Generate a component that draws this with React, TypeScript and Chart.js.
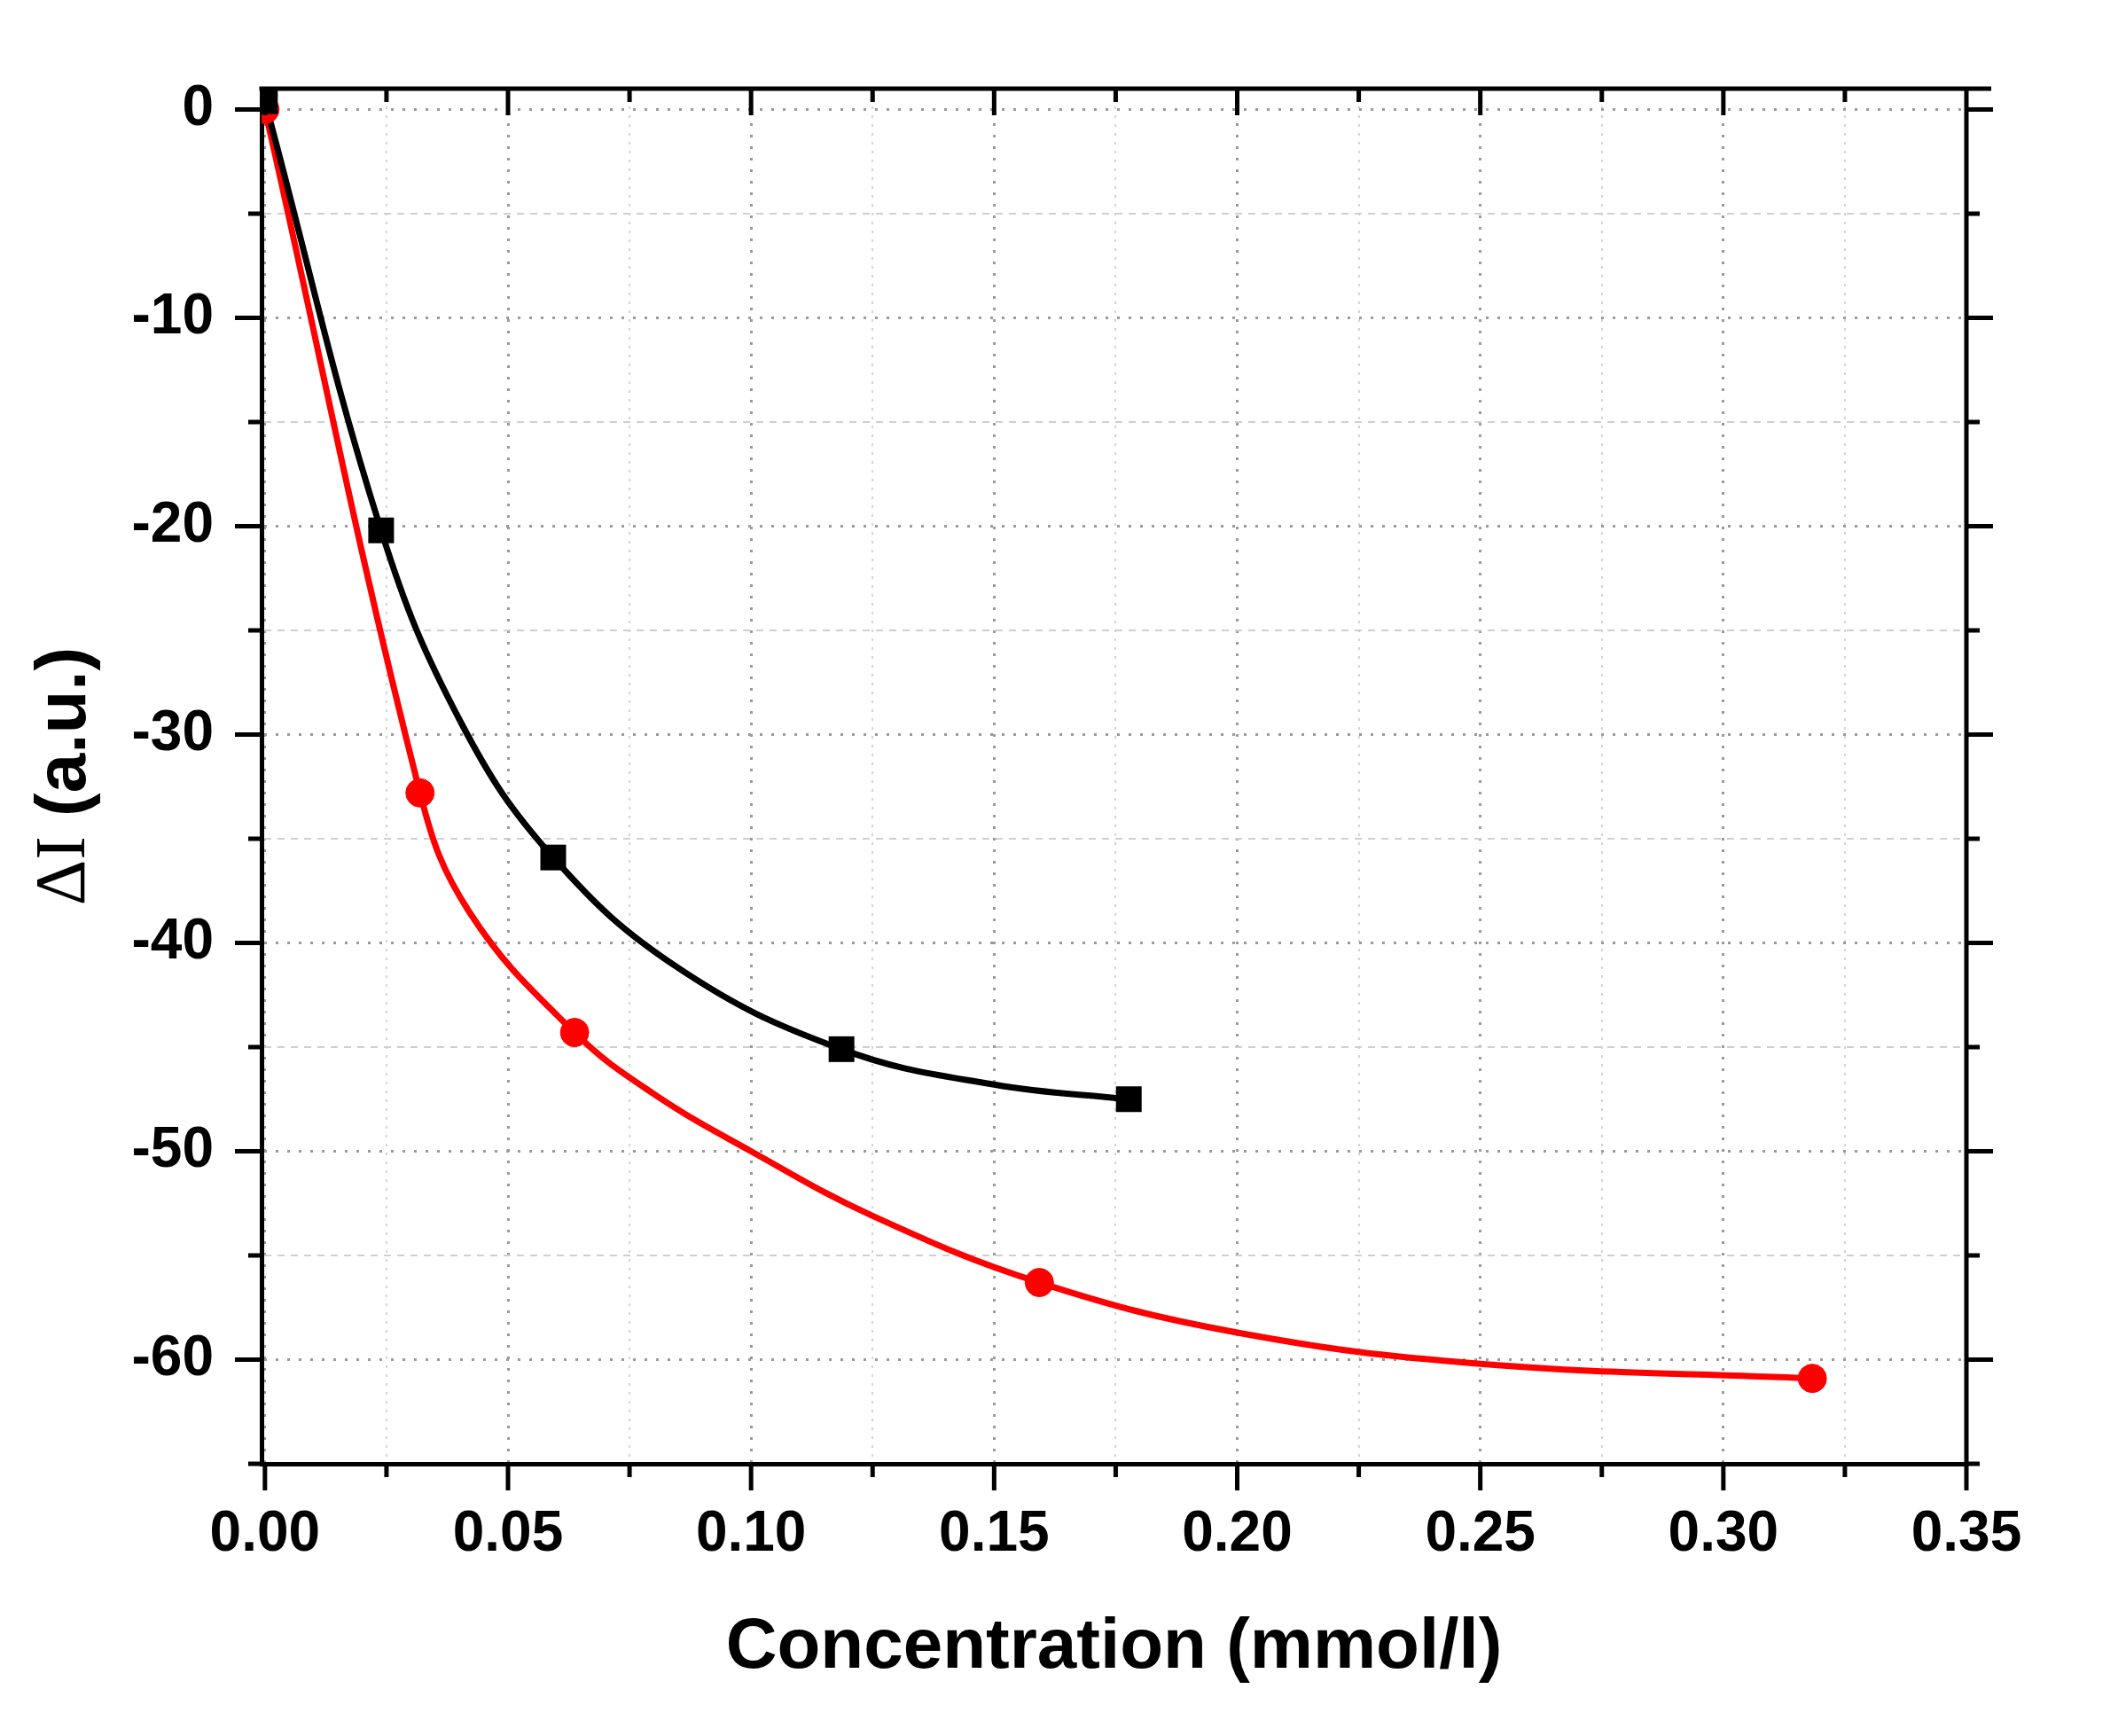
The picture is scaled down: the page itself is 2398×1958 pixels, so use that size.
import { useEffect, useRef } from "react";
import { Chart, registerables } from "chart.js";

Chart.register(...registerables);

const blackX = [0, 0.0239, 0.0593, 0.1186, 0.1777];
const blackY = [0.4, -20.2, -35.9, -45.1, -47.5];
const redX = [0, 0.0319, 0.0637, 0.1593, 0.3183];
const redY = [0, -32.8, -44.3, -56.3, -60.9];

// fitted curves, a few samples
const blackFitX = [0, 0.0239, 0.0405, 0.0593, 0.085, 0.1186, 0.15, 0.1777];
const blackFitY = [0.4, -20.2, -29.5, -35.9, -41.2, -45.1, -46.8, -47.5];
const redFitX = [0, 0.0319, 0.042, 0.0637, 0.08, 0.1, 0.125, 0.1593, 0.2, 0.25, 0.3183];
const redFitY = [0, -32.8, -38.5, -44.3, -47.25, -50, -53.1, -56.3, -58.7, -60.2, -60.9];

const xMin = -0.0007;
const xMax = 0.35;
const xStep = 0.025;
const xMajor = 0.05;
const yMin = -65;
const yMax = 1;
const yStep = 5;
const yMajor = 10;

const xTitle = "Concentration (mmol/l)";
const yTitleSymbol = "ΔI";
const yTitleUnit = " (a.u.)";

const sans = "'Liberation Sans', Arial, sans-serif";
const serif = "'Liberation Serif', 'Times New Roman', serif";

const isMultiple = (v: number, step: number) => Math.abs(v / step - Math.round(v / step)) < 1e-6;
const toPoints = (xs: number[], ys: number[]) => xs.map((x, i) => ({ x, y: ys[i] }));

const framePlugin = {
    id: "frame",
    afterDraw(chart: any) {
        const { ctx, chartArea: a, scales } = chart;
        const xs = scales.x;
        const ys = scales.y;
        ctx.save();
        ctx.strokeStyle = "#000";
        ctx.lineWidth = 5;
        ctx.lineCap = "butt";
        ctx.beginPath();
        ctx.moveTo(a.left - 2.5, a.top);
        ctx.lineTo(a.right + 28, a.top);
        ctx.moveTo(a.right, a.top);
        ctx.lineTo(a.right, a.bottom + 2.5);
        xs.ticks.forEach((t: any) => {
            const px = xs.getPixelForValue(t.value);
            const len = isMultiple(t.value, xMajor) ? 30 : 15;
            ctx.moveTo(px, a.bottom);
            ctx.lineTo(px, a.bottom + len);
            ctx.moveTo(px, a.top);
            ctx.lineTo(px, a.top + len);
        });
        ys.ticks.forEach((t: any) => {
            const py = ys.getPixelForValue(t.value);
            const len = isMultiple(t.value, yMajor) ? 30 : 15;
            ctx.moveTo(a.left, py);
            ctx.lineTo(a.left - len, py);
            ctx.moveTo(a.right, py);
            ctx.lineTo(a.right + len, py);
        });
        ctx.stroke();

        // y title: serif symbol + bold sans unit
        ctx.translate(74, (a.top + a.bottom) / 2);
        ctx.rotate(-Math.PI / 2);
        ctx.fillStyle = "#000";
        ctx.textBaseline = "middle";
        ctx.textAlign = "left";
        const symFont = "80px " + serif;
        const unitFont = "bold 80px " + sans;
        ctx.font = symFont;
        const w1 = ctx.measureText(yTitleSymbol).width;
        ctx.font = unitFont;
        const w2 = ctx.measureText(yTitleUnit).width;
        const start = -(w1 + w2) / 2;
        ctx.font = symFont;
        ctx.fillText(yTitleSymbol, start, 0);
        ctx.font = unitFont;
        ctx.fillText(yTitleUnit, start + w1, 0);
        ctx.restore();
    },
};

export default function App() {
    const chartRef = useRef<HTMLCanvasElement | null>(null);
    const chartInstance = useRef<Chart | null>(null);

    useEffect(() => {
        if (!chartRef.current) return;
        const ctx = chartRef.current.getContext("2d");
        if (!ctx) return;
        if (chartInstance.current) chartInstance.current.destroy();

        const curve = (color: string, data: any, order: number) => ({
            data,
            order,
            borderColor: color,
            borderWidth: 7,
            pointRadius: 0,
            tension: 0.4,
            fill: false,
        });

        chartInstance.current = new Chart(ctx, {
            type: "line",
            data: {
                datasets: [
                    {
                        label: "black",
                        data: toPoints(blackX, blackY),
                        order: 0,
                        showLine: false,
                        borderColor: "#000000",
                        backgroundColor: "#000000",
                        pointStyle: "rect",
                        pointRadius: 20.5,
                        pointBorderWidth: 0,
                    },
                    {
                        label: "red",
                        data: toPoints(redX, redY),
                        order: 1,
                        showLine: false,
                        borderColor: "#ff0000",
                        backgroundColor: "#ff0000",
                        pointStyle: "circle",
                        pointRadius: 16,
                        pointBorderWidth: 1,
                    },
                    curve("#000000", toPoints(blackFitX, blackFitY), 2),
                    curve("#ff0000", toPoints(redFitX, redFitY), 3),
                ],
            },
            options: {
                animation: false,
                responsive: false,
                devicePixelRatio: 1,
                layout: { padding: { left: 0, top: 100, right: 180, bottom: 0 } },
                plugins: {
                    legend: { display: false },
                    tooltip: { enabled: false },
                },
                scales: {
                    x: {
                        type: "linear",
                        position: "bottom",
                        min: xMin,
                        max: xMax,
                        afterFit: (scale: any) => {
                            scale.height = 307;
                        },
                        ticks: {
                            stepSize: xStep,
                            includeBounds: false,
                            autoSkip: false,
                            maxRotation: 0,
                            padding: 12,
                            color: "#000",
                            font: { family: sans, size: 64, weight: "bold" },
                            callback: (v: any) => (isMultiple(Number(v), xMajor) ? Number(v).toFixed(2) : ""),
                        },
                        grid: {
                            color: (c: any) => (c.tick && isMultiple(c.tick.value, xMajor) ? "#9a9a9a" : "#d4d4d4"),
                            lineWidth: (c: any) => (c.tick && isMultiple(c.tick.value, xMajor) ? 3 : 2),
                            drawTicks: true,
                            tickLength: 30,
                            tickColor: "rgba(0,0,0,0)",
                        },
                        border: {
                            display: true,
                            color: "#000",
                            width: 5,
                            dash: (c: any) => (c.tick ? (isMultiple(c.tick.value, xMajor) ? [3, 10] : [3, 7]) : []),
                        },
                        title: {
                            display: true,
                            text: xTitle,
                            color: "#000",
                            font: { family: sans, size: 80, weight: "bold" },
                            padding: { top: 0, bottom: 51 },
                        },
                    },
                    y: {
                        type: "linear",
                        position: "left",
                        min: yMin,
                        max: yMax,
                        afterFit: (scale: any) => {
                            scale.width = 295;
                        },
                        ticks: {
                            stepSize: yStep,
                            includeBounds: false,
                            autoSkip: false,
                            padding: 24,
                            color: "#000",
                            font: { family: sans, size: 64, weight: "bold" },
                            callback: (v: any) => (isMultiple(Number(v), yMajor) ? String(Number(v)) : ""),
                        },
                        grid: {
                            color: (c: any) => (c.tick && isMultiple(c.tick.value, yMajor) ? "#9a9a9a" : "#cfcfcf"),
                            lineWidth: (c: any) => (c.tick && isMultiple(c.tick.value, yMajor) ? 3 : 2),
                            drawTicks: true,
                            tickLength: 30,
                            tickColor: "rgba(0,0,0,0)",
                        },
                        border: {
                            display: true,
                            color: "#000",
                            width: 5,
                            dash: (c: any) => (c.tick ? (isMultiple(c.tick.value, yMajor) ? [3, 10] : [8, 7]) : []),
                        },
                    },
                },
            },
            plugins: [framePlugin],
        } as any);

        return () => {
            if (chartInstance.current) {
                chartInstance.current.destroy();
                chartInstance.current = null;
            }
        };
    }, []);

    return (
        <div style={{ position: "fixed", left: 0, top: 0, width: 2398, height: 1958, background: "#fff" }}>
            <canvas ref={chartRef} width={2398} height={1958} style={{ display: "block" }}></canvas>
        </div>
    );
}
